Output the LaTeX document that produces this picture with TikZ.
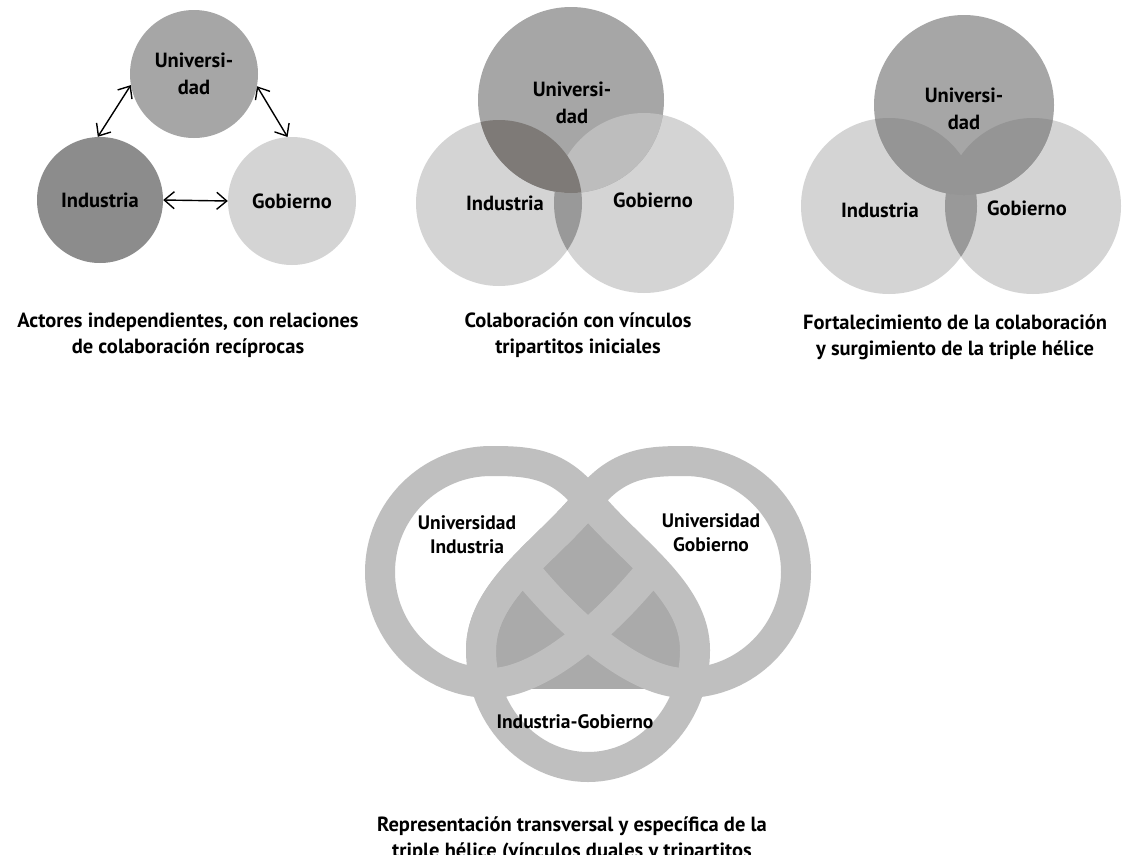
\documentclass[tikz,border=0pt]{standalone}
\usepackage{fontspec}
\setmainfont{PT Sans}
\usetikzlibrary{arrows.meta}
\definecolor{dAu}{RGB}{166,166,166}
\definecolor{dAi}{RGB}{140,140,140}
\definecolor{dAg}{RGB}{212,212,212}
\definecolor{light}{RGB}{212,212,212}
\definecolor{mid}{RGB}{166,166,166}
\definecolor{ovUI}{RGB}{126,122,119}
\definecolor{ovUG}{RGB}{189,189,189}
\definecolor{ovIG}{RGB}{153,153,153}
\definecolor{ovThree}{RGB}{149,149,149}
\definecolor{bandgray}{RGB}{191,191,191}
\definecolor{patchgray}{RGB}{170,170,170}
\tikzset{
  lbl/.style={font=\fontsize{20.5}{26}\selectfont\bfseries, align=center, inner sep=0pt, text=black},
  disclbl/.style={font=\fontsize{20.5}{27}\selectfont\bfseries, align=center, inner sep=0pt, text=black},
  smalllbl/.style={font=\fontsize{19.5}{24}\selectfont\bfseries, align=center, inner sep=0pt, text=black},
  disc/.style={circle, inner sep=0pt, disclbl},
  band/.style={line width=30pt, draw=bandgray, line cap=butt, line join=round},
  twoway/.style={{Straight Barb[length=10pt,width=17pt]}-{Straight Barb[length=10pt,width=17pt]}, line width=1.4pt, draw=black},
}
\begin{document}
\begin{tikzpicture}[x=1pt,y=-1pt]
\useasboundingbox (0,0) rectangle (1129,854);
\fill[white] (0,0) rectangle (1129,854);

% ---------- Diagram 1 ----------
\node[disc, minimum size=128pt, fill=dAu] (U1) at (194,74) {Universi-\\dad};
\node[disc, minimum size=126pt, fill=dAi] (I1) at (100,200) {Industria};
\node[disc, minimum size=128pt, fill=dAg] (G1) at (292,201) {Gobierno};
\draw[twoway] (U1.190) -- (I1.92);
\draw[twoway] (U1.-11) -- (G1.94);
\draw[twoway] (I1.east) -- (G1.west);
\node[lbl] (C1) at (188,335) {Actores independientes, con relaciones\\de colaboración recíprocas};

% ---------- Diagram 2 ----------
\coordinate (U2c) at (571,100);
\coordinate (I2c) at (499,203);
\coordinate (G2c) at (644,203);
\fill[light] (I2c) circle[radius=83pt];
\fill[light] (G2c) circle[radius=90pt];
\begin{scope}
  \clip (I2c) circle[radius=83pt];
  \fill[ovIG] (G2c) circle[radius=90pt];
\end{scope}
\fill[mid] (U2c) circle[radius=93pt];
\begin{scope}
  \clip (U2c) circle[radius=93pt];
  \fill[ovUG] (G2c) circle[radius=90pt];
  \fill[ovUI] (I2c) circle[radius=83pt];
\end{scope}
\node[disclbl] (U2) at (572,103) {Universi-\\dad};
\node[disclbl] (I2) at (505,203) {Industria};
\node[disclbl] (G2) at (653,200) {Gobierno};
\node[lbl] (C2) at (578,335) {Colaboración con vínculos\\tripartitos iniciales};

% ---------- Diagram 3 ----------
\coordinate (U3c) at (964,105);
\coordinate (I3c) at (889,206);
\coordinate (G3c) at (1033,206);
\fill[light] (I3c) circle[radius=88pt];
\fill[light] (G3c) circle[radius=88pt];
\begin{scope}
  \clip (I3c) circle[radius=88pt];
  \fill[ovIG] (G3c) circle[radius=88pt];
\end{scope}
\fill[mid] (U3c) circle[radius=90pt];
\begin{scope}
  \clip (U3c) circle[radius=90pt];
  \fill[ovThree] (G3c) circle[radius=88pt];
  \fill[ovThree] (I3c) circle[radius=88pt];
\end{scope}
\node[disclbl] (U3) at (964,109) {Universi-\\dad};
\node[disclbl] (I3) at (880,210) {Industria};
\node[disclbl] (G3) at (1027,208) {Gobierno};
\node[lbl] (C3) at (955,337) {Fortalecimiento de la colaboración\\y surgimiento de la triple hélice};

% ---------- Diagram 4 ----------
\begin{scope}[shift={(588,0)}]
  \begin{scope}
    \clip (-300,400) rectangle (300,688);
    \fill[patchgray] (0,500) .. controls (40,550) and (107,590) .. (107,650)
      .. controls (107,714.6) and (59.1,767) .. (0,767)
      .. controls (-59.1,767) and (-107,714.6) .. (-107,650)
      .. controls (-107,590) and (-40,550) .. (0,500) -- cycle;
  \end{scope}
  % left lobe + whole drop
  \draw[band] (63,570) .. controls (14,630) and (-50,683) .. (-97,683)
      .. controls (-158.3,683) and (-208,633.3) .. (-208,572)
      .. controls (-208,510.7) and (-158.3,461) .. (-97,461)
      .. controls (-60,461) and (-30,462.5) .. (0,500)
      .. controls (40,550) and (107,590) .. (107,650)
      .. controls (107,714.6) and (59.1,767) .. (0,767)
      .. controls (-59.1,767) and (-107,714.6) .. (-107,650)
      .. controls (-107,590) and (-40,550) .. (0,500);
  % right lobe
  \draw[band] (-63,570) .. controls (-14,630) and (50,683) .. (97,683)
      .. controls (158.3,683) and (208,633.3) .. (208,572)
      .. controls (208,510.7) and (158.3,461) .. (97,461)
      .. controls (60,461) and (30,462.5) .. (0,500)
      .. controls (-40,550) and (-107,590) .. (-107,650);
\end{scope}
\node[smalllbl] (L1) at (467,535) {Universidad\\Industria};
\node[smalllbl] (L2) at (711,533) {Universidad\\Gobierno};
\node[smalllbl] (L3) at (575,722) {Industria-Gobierno};
\node[lbl] (C4) at (572,839) {Representación transversal y específica de la\\triple hélice (vínculos duales y tripartitos};
\end{tikzpicture}
\end{document}
